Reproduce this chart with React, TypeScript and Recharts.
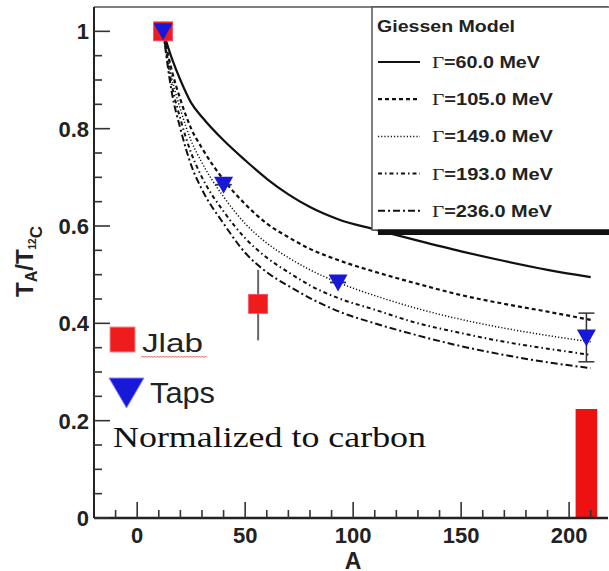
import React from 'react';
import {
  ComposedChart,
  ErrorBar,
  Line,
  ReferenceArea,
  ReferenceLine,
  Scatter,
  XAxis,
  YAxis,
} from 'recharts';

// Giessen model curves, T_A / T_12C vs A
const A_GRID = [12, 16, 20, 25, 30, 40, 50, 60, 70, 80, 93, 110, 130, 150, 170, 190, 210];
const G60 = [1, 0.945, 0.9, 0.853, 0.824, 0.776, 0.735, 0.697, 0.665, 0.639, 0.614, 0.593, 0.57, 0.548, 0.528, 0.51, 0.495];
const G105 = [1, 0.92, 0.86, 0.8, 0.76, 0.695, 0.645, 0.605, 0.577, 0.553, 0.53, 0.506, 0.481, 0.458, 0.44, 0.424, 0.407];
const G149 = [1, 0.905, 0.84, 0.775, 0.73, 0.66, 0.605, 0.565, 0.535, 0.51, 0.484, 0.457, 0.43, 0.408, 0.39, 0.375, 0.362];
const G193 = [1, 0.89, 0.82, 0.75, 0.7, 0.63, 0.575, 0.535, 0.505, 0.478, 0.452, 0.428, 0.4, 0.38, 0.362, 0.348, 0.335];
const G236 = [1, 0.875, 0.8, 0.725, 0.675, 0.605, 0.545, 0.505, 0.477, 0.452, 0.425, 0.4, 0.375, 0.353, 0.335, 0.32, 0.308];

// measurements
const JLAB_A = [12, 56];
const JLAB_T = [1, 0.44];
const JLAB_ERR = [[0, 0], [0.075, 0.07]];
const TAPS_A = [12, 40, 93, 208];
const TAPS_T = [1, 0.685, 0.484, 0.371];
const TAPS_ERR = [[0, 0], [0, 0], [0, 0], [0.05, 0.05]];
const PB_A = [203, 213];
const PB_T = 0.224;

// axes
const X_DOMAIN = [-20, 218];
const Y_DOMAIN = [0, 1.05];
const X_MAJOR = [0, 50, 100, 150, 200];
const X_MINOR = [-10, 10, 20, 30, 40, 60, 70, 80, 90, 110, 120, 130, 140, 160, 170, 180, 190, 210];
const Y_MAJOR = [0, 0.2, 0.4, 0.6, 0.8, 1];
const Y_MINOR = [0.05, 0.1, 0.15, 0.25, 0.3, 0.35, 0.45, 0.5, 0.55, 0.65, 0.7, 0.75, 0.85, 0.9, 0.95];

const W = 609;
const H = 571;
const MARGIN = { top: 7, right: 1, bottom: 0, left: 0 };
const Y_AXIS_W = 94;
const X_AXIS_H = 53;
// plot box, used for the inward tick marks of the overlay
const PLOT = { left: Y_AXIS_W, right: W - MARGIN.right, top: MARGIN.top, bottom: H - X_AXIS_H };
const px = (a: number) => PLOT.left + ((a - X_DOMAIN[0]) / (X_DOMAIN[1] - X_DOMAIN[0])) * (PLOT.right - PLOT.left);
const py = (t: number) => PLOT.bottom - ((t - Y_DOMAIN[0]) / (Y_DOMAIN[1] - Y_DOMAIN[0])) * (PLOT.bottom - PLOT.top);

const SANS = '"Liberation Sans", Arial, sans-serif';
const SERIF = '"Liberation Serif", "Times New Roman", serif';

const SERIES = [
  { key: 'g60', label: '60.0 MeV', values: G60, dash: undefined, width: 2.2, textLen: 108 },
  { key: 'g105', label: '105.0 MeV', values: G105, dash: '4 3', width: 2.2, textLen: 121 },
  { key: 'g149', label: '149.0 MeV', values: G149, dash: '1.2 2', width: 1.5, textLen: 121 },
  { key: 'g193', label: '193.0 MeV', values: G193, dash: '4 3 1.5 3', width: 2, textLen: 121 },
  { key: 'g236', label: '236.0 MeV', values: G236, dash: '7 3 2 3', width: 2, textLen: 120 },
];

const jlabData = JLAB_A.map((a, i) => ({ A: a, T: JLAB_T[i], err: JLAB_ERR[i] }));
const tapsData = TAPS_A.map((a, i) => ({ A: a, T: TAPS_T[i], err: TAPS_ERR[i] }));

const renderYTick = (props: any) => {
  const { x, y, payload } = props;
  const v = payload.value;
  const label = v === 0 ? '0' : v === 1 ? '1' : v.toFixed(1);
  return (
    <text x={x - 5} y={y + 8} textAnchor="end" fontFamily={SANS} fontWeight="bold" fontSize={22} fill="#222">
      {label}
    </text>
  );
};

const renderXTick = (props: any) => {
  const { x, y, payload } = props;
  return (
    <text x={x} y={y + 25} textAnchor="middle" fontFamily={SANS} fontWeight="bold" fontSize={22} fill="#222">
      {payload.value}
    </text>
  );
};

function SquareMark(props: any) {
  const { cx, cy } = props;
  return <rect x={cx - 9.5} y={cy - 9.5} width={19} height={19} fill="#ee1c1c" stroke="#f46" strokeWidth={0.8} />;
}

function TriangleMark(props: any) {
  const { cx, cy } = props;
  return <polygon points={`${cx - 9.5},${cy - 8} ${cx + 9.5},${cy - 8} ${cx},${cy + 9}`} fill="#1818d8" />;
}

export default function App() {
  return (
    <div style={{ position: 'absolute', left: 0, top: 0, width: W, height: H, background: '#fff' }}>
      <ComposedChart width={W} height={H} margin={MARGIN}>
        <XAxis
          dataKey="A"
          type="number"
          domain={X_DOMAIN}
          ticks={X_MAJOR}
          interval={0}
          allowDataOverflow
          height={X_AXIS_H}
          tickSize={0}
          tickMargin={0}
          tickLine={false}
          tick={renderXTick}
          axisLine={{ stroke: '#222', strokeWidth: 2.5 }}
        />
        <YAxis
          type="number"
          domain={Y_DOMAIN}
          ticks={Y_MAJOR}
          interval={0}
          allowDataOverflow
          width={Y_AXIS_W}
          tickSize={0}
          tickMargin={0}
          tickLine={false}
          tick={renderYTick}
          axisLine={{ stroke: '#222', strokeWidth: 2 }}
        />
        <ReferenceLine y={Y_DOMAIN[1]} stroke="#555" strokeWidth={1.5} ifOverflow="visible" />
        <ReferenceArea x1={PB_A[0]} x2={PB_A[1]} y1={0} y2={PB_T} fill="#ee1111" fillOpacity={1} stroke="none" />
        {SERIES.map((s) => (
          <Line
            key={s.key}
            data={A_GRID.map((a, i) => ({ A: a, T: s.values[i] }))}
            dataKey="T"
            type="monotone"
            stroke="#111"
            strokeWidth={s.width}
            strokeDasharray={s.dash}
            dot={false}
            activeDot={false}
            isAnimationActive={false}
          />
        ))}
        <Scatter data={jlabData} dataKey="T" shape={<SquareMark />} isAnimationActive={false}>
          <ErrorBar dataKey="err" direction="y" width={0} stroke="#666" strokeWidth={2} />
        </Scatter>
        <Scatter data={tapsData} dataKey="T" shape={<TriangleMark />} isAnimationActive={false}>
          <ErrorBar dataKey="err" direction="y" width={8} stroke="#333" strokeWidth={1.5} />
        </Scatter>
      </ComposedChart>

      <svg width={W} height={H} style={{ position: 'absolute', left: 0, top: 0, pointerEvents: 'none' }}>
        {/* inward tick marks */}
        <g stroke="#333" strokeWidth={1.6}>
          {X_MAJOR.map((v) => (
            <line key={`xM${v}`} x1={px(v)} x2={px(v)} y1={PLOT.bottom} y2={PLOT.bottom - 16} />
          ))}
          {X_MINOR.map((v) => (
            <line key={`xm${v}`} x1={px(v)} x2={px(v)} y1={PLOT.bottom} y2={PLOT.bottom - 8} />
          ))}
          {Y_MAJOR.map((v) => (
            <line key={`yM${v}`} x1={PLOT.left} x2={PLOT.left + 16} y1={py(v)} y2={py(v)} />
          ))}
          {Y_MINOR.map((v) => (
            <line key={`ym${v}`} x1={PLOT.left} x2={PLOT.left + 8} y1={py(v)} y2={py(v)} />
          ))}
        </g>

        {/* legend box */}
        <rect x={372} y={7} width={240} height={223} fill="#fff" stroke="#555" strokeWidth={1.5} />
        <rect x={378} y={229.5} width={232} height={5.5} fill="#111" />
        <text x={377} y={31.5} fontFamily={SANS} fontWeight="bold" fontSize={17} fill="#222" textLength={138} lengthAdjust="spacingAndGlyphs">
          Giessen Model
        </text>
        {SERIES.map((s, i) => {
          const cy = 62 + i * 37.2;
          return (
            <g key={s.key}>
              <line x1={378} x2={420} y1={cy} y2={cy} stroke="#111" strokeWidth={s.width} strokeDasharray={s.dash} />
              <text x={432} y={cy + 6} fontFamily={SANS} fontWeight="bold" fontSize={16} fill="#222" textLength={s.textLen} lengthAdjust="spacingAndGlyphs">
                <tspan fontFamily={SERIF} fontWeight="normal" fontSize={17}>Γ</tspan>={s.label}
              </text>
            </g>
          );
        })}

        {/* in-plot legend for data */}
        <rect x={110} y={327} width={25} height={25} fill="#ee1c1c" stroke="#f88" strokeWidth={1} />
        <text x={142} y={352} fontFamily={SANS} fontSize={26} fill="#222" textLength={61} lengthAdjust="spacingAndGlyphs">
          Jlab
        </text>
        <path d={'M141 357.5' + ' l1.5 -1.5 l1.5 1.5'.repeat(22)} fill="none" stroke="#d33" strokeWidth={0.8} />
        <polygon points="109,378 144,378 126.5,408" fill="#1818d8" stroke="#88f" strokeWidth={1} />
        <text x={150} y={403} fontFamily={SANS} fontSize={30} fill="#222" textLength={65} lengthAdjust="spacingAndGlyphs">
          Taps
        </text>
        <text x={113} y={447} fontFamily={SERIF} fontSize={29} fill="#111" textLength={313} lengthAdjust="spacingAndGlyphs">
          Normalized to carbon
        </text>

        {/* axis titles */}
        <text x={353} y={569} textAnchor="middle" fontFamily={SANS} fontWeight="bold" fontSize={23} fill="#222">
          A
        </text>
        <text x={33} y={297} transform="rotate(-90 33 297)" fontFamily={SANS} fontWeight="bold" fontSize={24} fill="#222">
          T<tspan fontSize={16} dy={4}>A</tspan>
          <tspan dy={-4}>/T</tspan>
          <tspan fontSize={10} dy={3}>12</tspan>
          <tspan fontSize={17} dy={6}>C</tspan>
        </text>
      </svg>
    </div>
  );
}
